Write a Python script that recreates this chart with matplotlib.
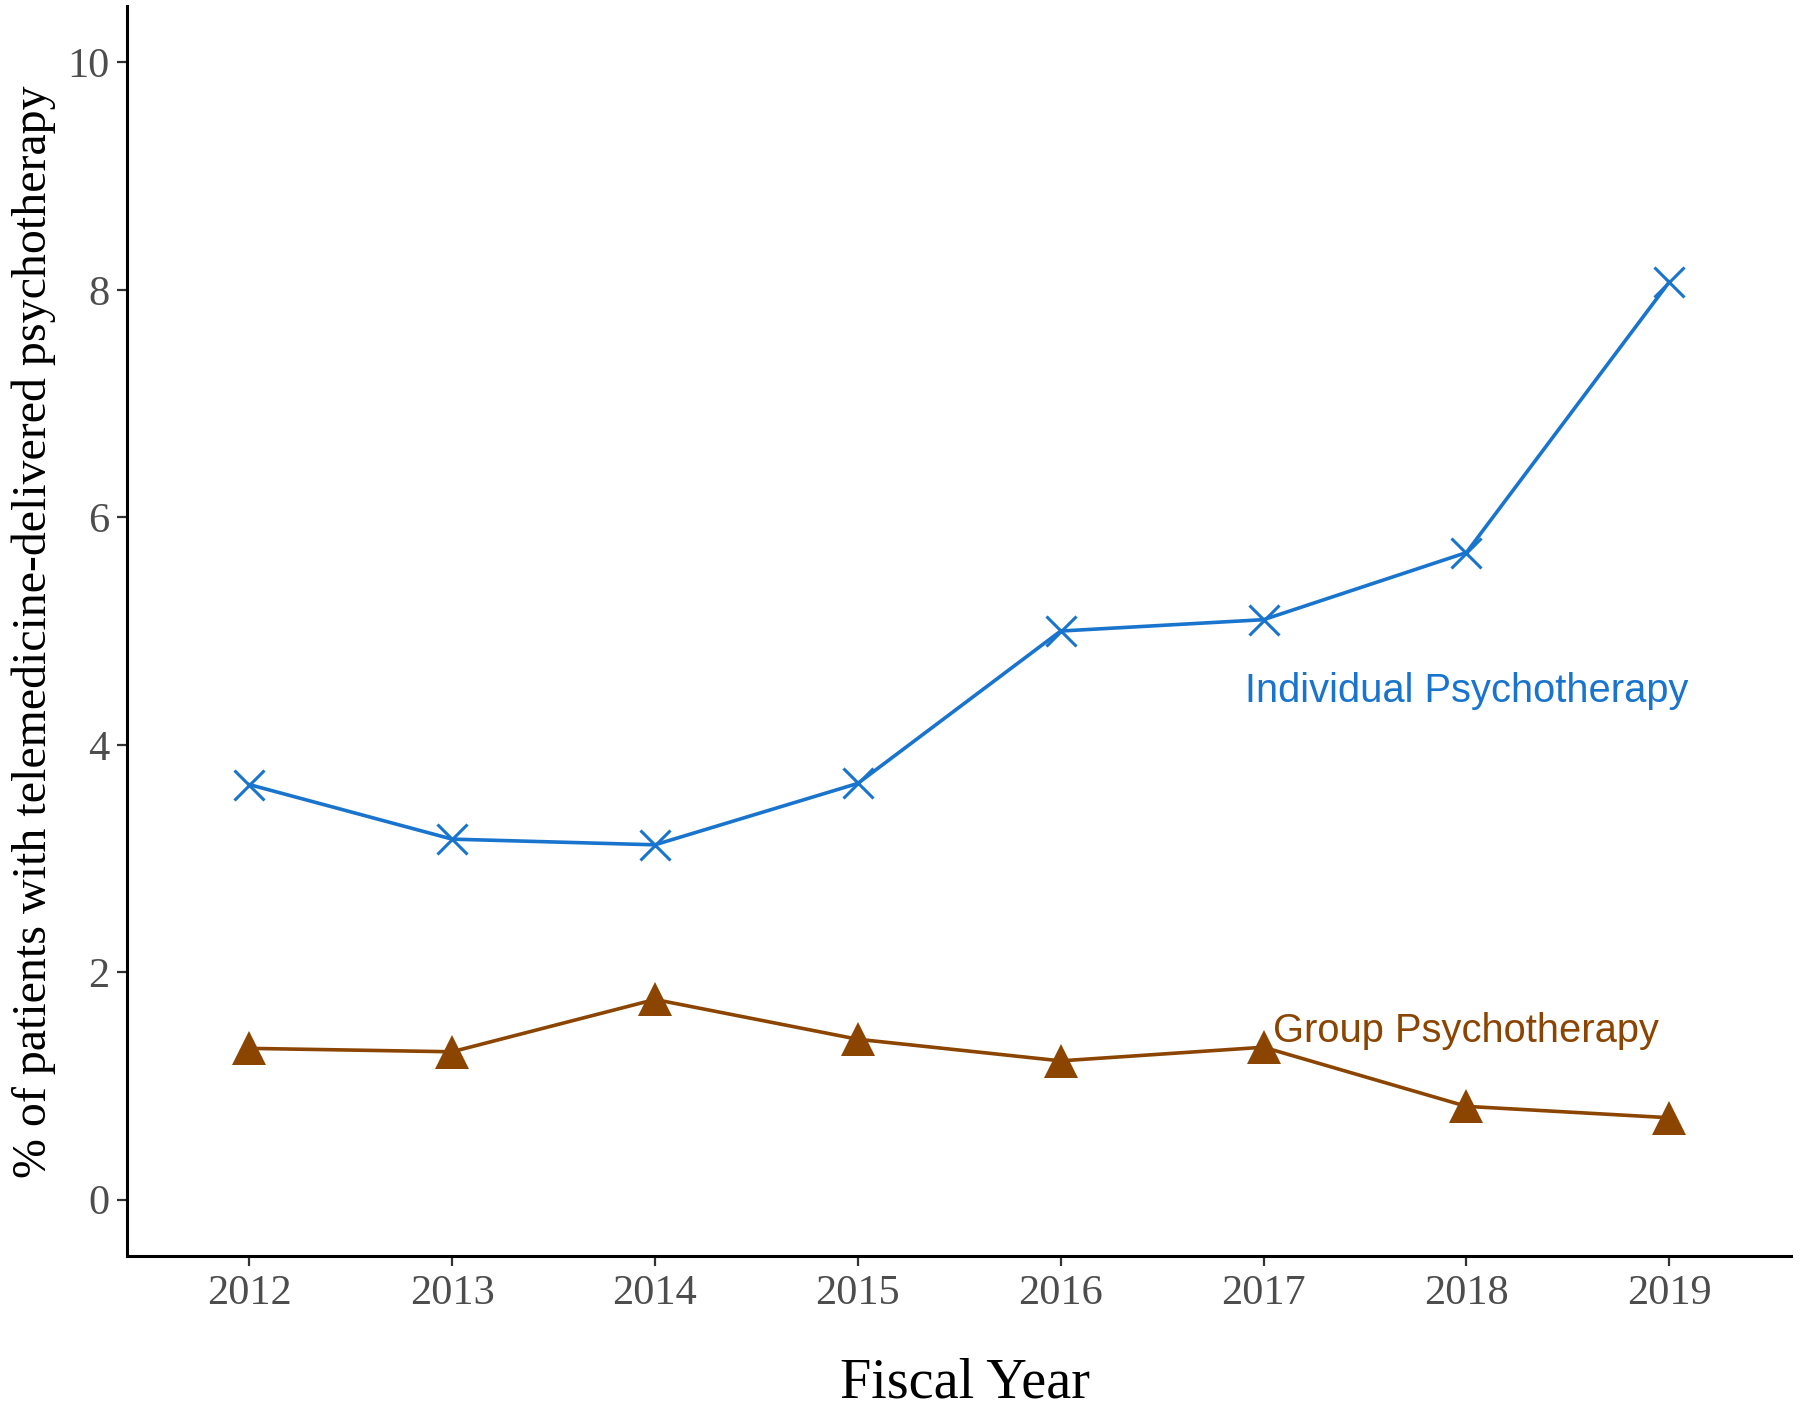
import matplotlib
matplotlib.use("Agg")
import matplotlib.pyplot as plt

# data
years = [2012, 2013, 2014, 2015, 2016, 2017, 2018, 2019]
individual = [3.65, 3.17, 3.12, 3.66, 5.00, 5.10, 5.69, 8.07]
group = [1.33, 1.30, 1.76, 1.41, 1.22, 1.34, 0.82, 0.72]
yticks = [0, 2, 4, 6, 8, 10]

blue = "#1874CD"
brown = "#8B4500"
grey = "#4D4D4D"

fig = plt.figure(figsize=(18, 14.07), dpi=100)
ax = fig.add_axes([0.0708, 0.107, 0.9242, 0.889])

ax.plot(years, individual, color=blue, lw=2.6, marker="x", ms=21, mew=2.2)
ax.plot(years, group, color=brown, lw=2.6, marker="^", ms=25, mew=0)

ax.text(2018.0, 4.47, "Individual Psychotherapy", color=blue,
        fontsize=28.7, family="Liberation Sans", ha="center", va="center")
ax.text(2018.0, 1.48, "Group Psychotherapy", color=brown,
        fontsize=28.7, family="Liberation Sans", ha="center", va="center")

ax.set_xlim(2011.4, 2019.6)
ax.set_ylim(-0.5, 10.5)
ax.set_xticks(years)
ax.set_yticks(yticks)

for side in ("top", "right"):
    ax.spines[side].set_visible(False)
for side in ("left", "bottom"):
    ax.spines[side].set_linewidth(2.2)
ax.tick_params(length=7, width=1.6, color="#333333", labelcolor=grey,
               labelsize=30.5, pad=6)
for lab in ax.get_xticklabels() + ax.get_yticklabels():
    lab.set_family("Liberation Serif")

fig.text(0.0185, 0.551, "% of patients with telemedicine-delivered psychotherapy",
         rotation=90, ha="center", va="center", fontsize=34.5,
         family="Liberation Serif")
fig.text(0.536, 0.017, "Fiscal Year", ha="center", va="center",
         fontsize=40.5, family="Liberation Serif")

fig.savefig("out.png", dpi=100)
